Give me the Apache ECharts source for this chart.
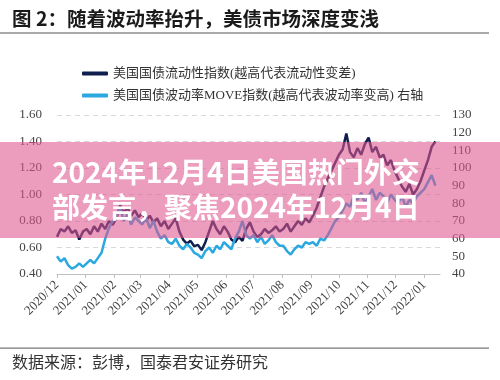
<!DOCTYPE html>
<html>
<head>
<meta charset="utf-8">
<script src="https://cdn.jsdelivr.net/npm/echarts@6/dist/echarts.min.js"></script>
<style>html,body{margin:0;padding:0;background:#fff;}#c{width:500px;height:380px;}</style>
</head>
<body>
<div id="c"></div>
<script>
const titleText = '图 2：随着波动率抬升，美债市场深度变浅';
const sourceText = '数据来源：彭博，国泰君安证券研究';
const overlayLines = ['2024年12月4日美国热门外交', '部发言，聚焦2024年12月4日'];
const seriesNames = ['美国国债流动性指数(越高代表流动性变差)', '美国国债波动率MOVE指数(越高代表波动率变高) 右轴'];

const dates = [
 '2020-12-01','2020-12-05','2020-12-09','2020-12-13','2020-12-17','2020-12-21','2020-12-25','2020-12-29',
 '2021-01-02','2021-01-06','2021-01-10','2021-01-14','2021-01-18','2021-01-22','2021-01-26','2021-01-30',
 '2021-02-03','2021-02-07','2021-02-11','2021-02-15','2021-02-19','2021-02-23','2021-02-27',
 '2021-03-03','2021-03-07','2021-03-11','2021-03-15','2021-03-19','2021-03-23','2021-03-27','2021-03-31',
 '2021-04-04','2021-04-08','2021-04-12','2021-04-16','2021-04-20','2021-04-24','2021-04-28',
 '2021-05-02','2021-05-06','2021-05-10','2021-05-14','2021-05-18','2021-05-22','2021-05-26','2021-05-30',
 '2021-06-03','2021-06-07','2021-06-11','2021-06-15','2021-06-19','2021-06-23','2021-06-27',
 '2021-07-01','2021-07-05','2021-07-09','2021-07-13','2021-07-17','2021-07-21','2021-07-25','2021-07-29',
 '2021-08-02','2021-08-06','2021-08-10','2021-08-14','2021-08-18','2021-08-22','2021-08-26','2021-08-30',
 '2021-09-03','2021-09-07','2021-09-11','2021-09-15','2021-09-19','2021-09-23','2021-09-27',
 '2021-10-01','2021-10-05','2021-10-09','2021-10-13','2021-10-17','2021-10-21','2021-10-25','2021-10-29',
 '2021-11-02','2021-11-06','2021-11-10','2021-11-14','2021-11-18','2021-11-22','2021-11-26','2021-11-30',
 '2021-12-04','2021-12-08','2021-12-12','2021-12-16','2021-12-20','2021-12-24','2021-12-28',
 '2022-01-01','2022-01-05','2022-01-09','2022-01-13'
];

const liquidity = [
 0.68,0.74,0.72,0.76,0.71,0.73,0.66,0.72,
 0.74,0.70,0.76,0.72,0.78,0.74,0.80,0.77,
 0.82,0.92,0.86,0.90,0.84,0.88,0.83,
 0.86,0.80,0.84,0.79,0.82,0.76,0.80,0.74,
 0.78,0.82,0.72,0.66,0.63,0.65,0.61,
 0.62,0.58,0.64,0.72,0.80,0.74,0.70,0.76,
 0.72,0.66,0.64,0.68,0.65,0.74,0.79,
 0.72,0.68,0.70,0.74,0.71,0.73,0.76,0.72,
 0.74,0.78,0.72,0.76,0.80,0.77,0.82,0.79,
 0.84,0.90,0.98,1.06,1.12,1.18,1.24,
 1.30,1.34,1.46,1.32,1.28,1.35,1.30,1.38,
 1.43,1.32,1.36,1.28,1.30,1.22,1.26,1.18,
 1.12,1.06,1.02,1.08,1.00,1.04,1.10,
 1.18,1.26,1.36,1.40
];

const moveIndex = [
 50,47,49,45,43,44,46,44,
 46,48,46,49,52,60,66,70,
 72,78,70,74,68,72,70,
 68,72,66,70,64,60,62,58,
 57,60,56,54,57,55,52,
 51,49,53,55,52,56,54,58,
 56,54,60,64,70,62,60,
 62,58,61,57,59,62,58,56,
 56,53,51,54,56,55,58,57,
 58,56,60,59,62,66,70,
 72,76,80,78,84,82,86,80,
 84,88,82,86,84,80,85,82,
 80,84,78,82,80,84,86,
 88,92,96,90
];

const serif = '"Liberation Serif", "Noto Sans CJK SC"';
const cjk = '"Noto Sans CJK SC"';
const navy = '#0f1f4d';
const sky = '#2aa8e0';

const chart = echarts.init(document.getElementById('c'));
chart.setOption({
  animation: false,
  backgroundColor: '#ffffff',
  legend: {
    orient: 'vertical',
    left: 77,
    top: 62,
    itemWidth: 26,
    itemHeight: 4,
    itemGap: 9,
    icon: 'roundRect',
    textStyle: { fontFamily: serif, fontSize: 13, color: '#333' },
    data: seriesNames
  },
  grid: { left: 57, right: 60, top: 115, bottom: 106, containLabel: false },
  xAxis: {
    type: 'time',
    min: '2020-12-01',
    max: '2022-01-18',
    minInterval: 28 * 86400000,
    maxInterval: 31 * 86400000,
    splitNumber: 14,
    axisLine: { lineStyle: { color: '#bfbfbf', width: 1 } },
    axisTick: { show: true, length: 4, lineStyle: { color: '#bfbfbf' } },
    splitLine: { show: false },
    axisLabel: {
      rotate: 45,
      margin: 9,
      fontFamily: serif,
      fontSize: 13,
      color: '#444',
      formatter: '{yyyy}/{MM}',
      hideOverlap: false
    }
  },
  yAxis: [
    {
      type: 'value', min: 0.4, max: 1.6, interval: 0.2,
      axisLine: { show: false }, axisTick: { show: false },
      splitLine: { show: true, lineStyle: { color: '#d9d9d9', type: [5, 4], width: 1 } },
      axisLabel: { margin: 15, fontFamily: serif, fontSize: 13, color: '#444', formatter: v => v.toFixed(2) }
    },
    {
      type: 'value', min: 40, max: 130, interval: 10,
      axisLine: { show: false }, axisTick: { show: false },
      splitLine: { show: false },
      axisLabel: { margin: 12, fontFamily: serif, fontSize: 13, color: '#444' }
    }
  ],
  series: [
    {
      name: seriesNames[0], type: 'line', yAxisIndex: 0, showSymbol: false, symbol: 'none',
      lineStyle: { color: navy, width: 2.5 }, itemStyle: { color: navy },
      data: dates.map((d, i) => [d, liquidity[i]]), z: 2
    },
    {
      name: seriesNames[1], type: 'line', yAxisIndex: 1, showSymbol: false, symbol: 'none',
      lineStyle: { color: sky, width: 2.5 }, itemStyle: { color: sky },
      data: dates.map((d, i) => [d, moveIndex[i]]), z: 3
    }
  ],
  graphic: [
    { type: 'text', left: 12, top: 9, z: 10,
      style: { text: titleText, fontFamily: cjk, fontWeight: 'bold', fontSize: 19.5, fill: '#1a1a1a' } },
    { type: 'rect', shape: { x: 0, y: 32.5, width: 489, height: 1 }, style: { fill: '#555' }, z: 10 },
    { type: 'rect', shape: { x: 0, y: 347.5, width: 489, height: 1.2 }, style: { fill: '#777' }, z: 10 },
    { type: 'text', left: 12, top: 354, z: 10,
      style: { text: sourceText, fontFamily: cjk, fontSize: 16, fill: '#333' } },
    { type: 'rect', shape: { x: 0, y: 142, width: 500, height: 96 }, style: { fill: 'rgba(222,84,142,0.58)' }, z: 50 },
    { type: 'text', x: 52, y: 172, z: 51,
      style: { text: overlayLines[0], fontFamily: cjk, fontWeight: 'bold', fontSize: 28, fill: '#ffffff', verticalAlign: 'middle' } },
    { type: 'text', x: 52, y: 207, z: 51,
      style: { text: overlayLines[1], fontFamily: cjk, fontWeight: 'bold', fontSize: 28, fill: '#ffffff', verticalAlign: 'middle' } }
  ]
});
</script>
</body>
</html>
